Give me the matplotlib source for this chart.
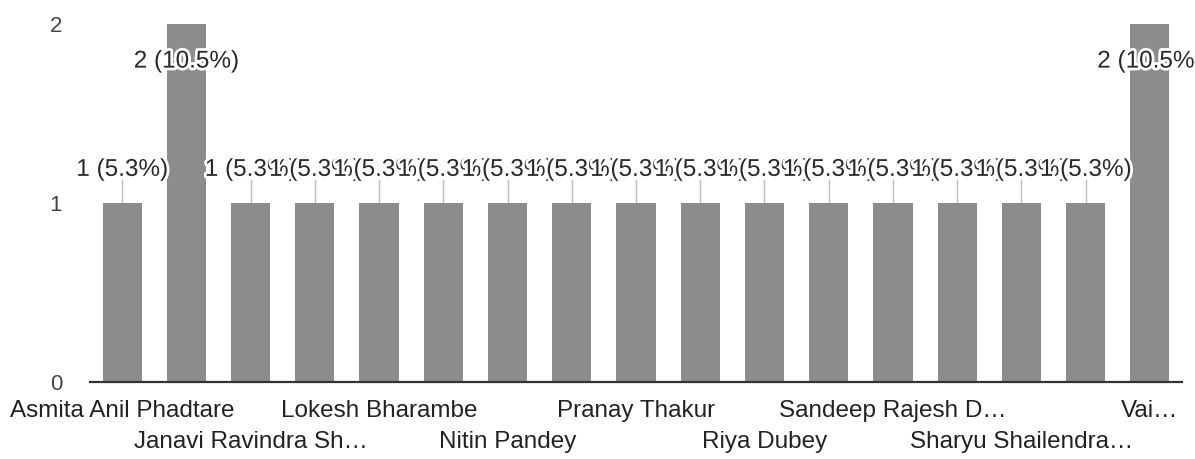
import matplotlib.pyplot as plt
import matplotlib.patheffects as pe

# data (19 responses in total)
names = ["Asmita Anil Phadtare", "", "Janavi Ravindra Sh…", "", "Lokesh Bharambe", "",
         "Nitin Pandey", "", "Pranay Thakur", "", "Riya Dubey", "", "Sandeep Rajesh D…", "",
         "Sharyu Shailendra…", "", "Vai…"]
counts = [1, 2, 1, 1, 1, 1, 1, 1, 1, 1, 1, 1, 1, 1, 1, 1, 2]
total = 19
yticks = [0, 1, 2]

plt.rcParams['font.family'] = ['Liberation Sans', 'DejaVu Sans']

fig = plt.figure(figsize=(11.95, 4.59), dpi=100)
ax = fig.add_axes([90 / 1195, 77 / 459, 1092 / 1195, 358 / 459])

x = list(range(len(counts)))
ax.bar(x, counts, width=0.61, color='#8c8c8c', zorder=2)

ax.set_xlim(-0.5, len(counts) - 0.5)
ax.set_ylim(0, max(yticks))

# value labels, drawn left to right so later ones sit on top
halo = [pe.withStroke(linewidth=4, foreground='white')]
top = max(yticks)
for i, c in enumerate(counts):
    txt = f"{c} ({c / total * 100:.1f}%)"
    if c >= top:
        ax.text(i, c - 0.21, txt, ha='center', va='center', fontsize=17.5,
                color='#2a2a2a', path_effects=halo, zorder=5, clip_on=False)
    else:
        ax.plot([i, i], [c, c + 0.13], color='#bdbdbd', lw=1, zorder=1)
        ax.text(i, c + 0.185, txt, ha='center', va='center', fontsize=17.5,
                color='#2a2a2a', path_effects=halo, zorder=5, clip_on=False)

# staggered category labels (every other one drops to a second row)
ax.set_xticks(x)
ax.set_xticklabels(names, fontsize=17.5, color='#222222')
ax.tick_params(axis='x', length=0, pad=13)
row = 0
for lab, n in zip(ax.get_xticklabels(), names):
    if n:
        if row % 2 == 1:
            lab.set_y(-31 / 358)
        row += 1

ax.set_yticks(yticks)
ax.set_yticklabels([str(t) for t in yticks], fontsize=16, color='#444444')
ax.tick_params(axis='y', length=0, pad=20)

for s in ['top', 'right', 'left']:
    ax.spines[s].set_visible(False)
ax.spines['bottom'].set_color('#333333')
ax.spines['bottom'].set_linewidth(1.6)
ax.spines['bottom'].set_zorder(3)

fig.savefig('out.png', dpi=100)
